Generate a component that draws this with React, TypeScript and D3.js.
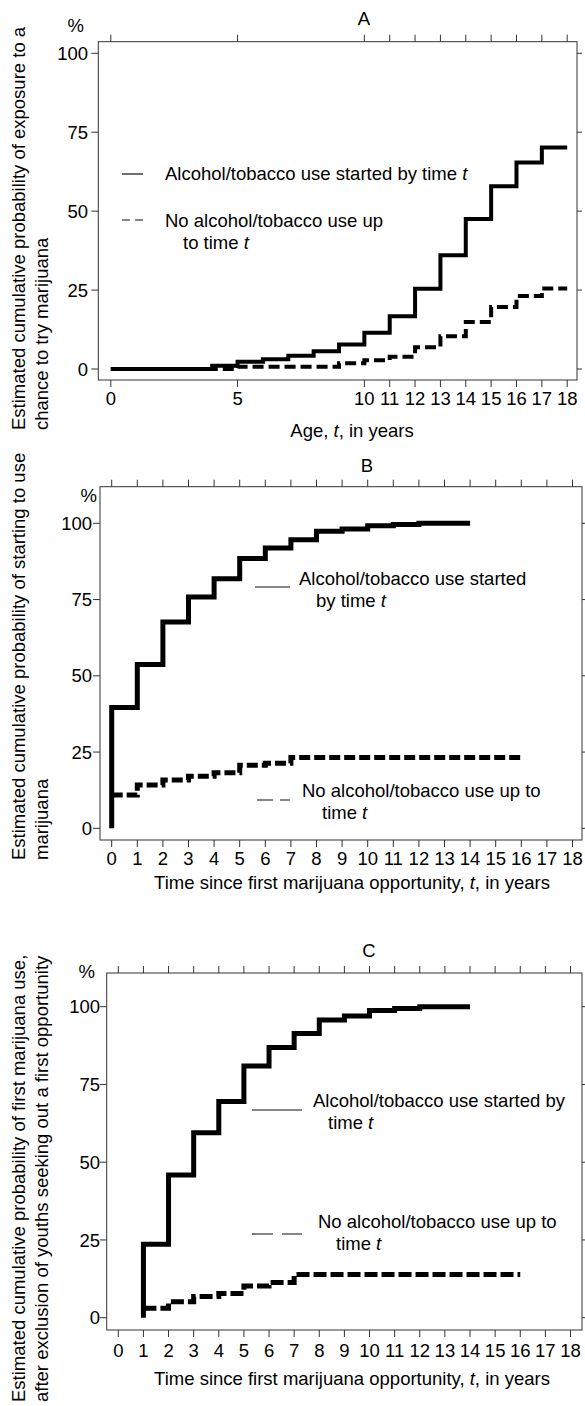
import React from 'react';
import * as d3 from 'd3';

const FONT = '"Liberation Sans", Arial, Helvetica, sans-serif';
const FS = 18.5;

// tick values
const yTickValues = [0, 25, 50, 75, 100];
const ageTicks = [0, 5, 10, 11, 12, 13, 14, 15, 16, 17, 18];
const yearTicks = [0, 1, 2, 3, 4, 5, 6, 7, 8, 9, 10, 11, 12, 13, 14, 15, 16, 17, 18];

// Panel A: exposure to a chance to try marijuana, by age
const ageSolidT = [0, 4, 5, 6, 7, 8, 9, 10, 11, 12, 13, 14, 15, 16, 17, 18];
const ageSolidV = [0, 1.0, 2.3, 3.1, 4.2, 5.6, 7.8, 11.5, 16.7, 25.4, 36.0, 47.5, 57.9, 65.4, 70.2, 70.2];
const ageDashT = [0, 5, 9, 10, 11, 12, 13, 14, 15, 16, 17, 18];
const ageDashV = [0, 0.7, 1.8, 2.8, 3.9, 6.9, 10.4, 14.9, 19.6, 23.1, 25.5, 25.5];

// Panel B: starting to use, time since first opportunity
const oppSolidT = [0, 0, 1, 2, 3, 4, 5, 6, 7, 8, 9, 10, 11, 12, 14];
const oppSolidV = [0, 39.6, 53.7, 67.6, 75.8, 81.8, 88.5, 91.9, 94.6, 97.4, 98.1, 99.2, 99.6, 100, 100];
const oppDashT = [0, 1, 2, 3, 4, 5, 6, 7, 16];
const oppDashV = [10.9, 14.2, 15.8, 17.1, 18.2, 20.7, 21.3, 23.2, 23.2];

// Panel C: after excluding youths seeking out a first opportunity
const exclSolidT = [1, 1, 2, 3, 4, 5, 6, 7, 8, 9, 10, 11, 12, 14];
const exclSolidV = [0, 23.6, 45.9, 59.5, 69.5, 80.9, 86.9, 91.4, 95.7, 97.0, 98.8, 99.4, 100, 100];
const exclDashT = [1, 2, 3, 4, 5, 6, 7, 16];
const exclDashV = [3.0, 5.1, 6.8, 7.8, 10.2, 11.3, 13.9, 13.9];

const solidLabel = 'Alcohol/tobacco use started by time ';

type Part = [string, string];
type LegendLine = { x: number; y: number; parts: Part };
type LegendItem = { x1: number; x2: number; y: number; dash: string | null; lines: LegendLine[] };

const panels = [
  {
    letter: 'A',
    box: { left: 98.3, right: 577, top: 41.7, bottom: 380 },
    xRange: [110.8, 567.2], yRange: [369, 53.3],
    xTicks: ageTicks,
    titleX: 364, titleY: 25,
    pctX: 84, pctY: 32,
    yLabelX: 88,
    xLabelY: 405,
    xTitle: ['Age, ', 't', ', in years'], xTitleX: 352, xTitleY: 437,
    yTitle: ['Estimated cumulative probability of exposure to a', 'chance to try marijuana'],
    yTitleStart: 430,
    solid: [ageSolidT, ageSolidV], dashed: [ageDashT, ageDashV],
    lineWidth: 4, dash: '11 5',
    legend: [
      { x1: 122, x2: 143, y: 174, dash: null, lines: [{ x: 165, y: 180, parts: [solidLabel, 't'] }] },
      {
        x1: 122, x2: 143, y: 220, dash: '8 5', lines: [
          { x: 165, y: 226.5, parts: ['No alcohol/tobacco use up', ''] },
          { x: 183, y: 248.5, parts: ['to time ', 't'] },
        ],
      },
    ] as LegendItem[],
  },
  {
    letter: 'B',
    box: { left: 100, right: 582, top: 486.7, bottom: 840 },
    xRange: [111.7, 572.5], yRange: [828.3, 523.3],
    xTicks: yearTicks,
    titleX: 367, titleY: 472,
    pctX: 97, pctY: 502,
    yLabelX: 92,
    xLabelY: 865,
    xTitle: ['Time since first marijuana opportunity, ', 't', ', in years'], xTitleX: 352, xTitleY: 889,
    yTitle: ['Estimated cumulative probability of starting to use', 'marijuana'],
    yTitleStart: 860,
    solid: [oppSolidT, oppSolidV], dashed: [oppDashT, oppDashV],
    lineWidth: 5, dash: '11 4',
    legend: [
      {
        x1: 255, x2: 290, y: 587, dash: null, lines: [
          { x: 299, y: 585, parts: ['Alcohol/tobacco use started', ''] },
          { x: 316, y: 606.5, parts: ['by time ', 't'] },
        ],
      },
      {
        x1: 257, x2: 290, y: 800, dash: '16 7', lines: [
          { x: 302, y: 797, parts: ['No alcohol/tobacco use up to', ''] },
          { x: 322, y: 818.5, parts: ['time ', 't'] },
        ],
      },
    ] as LegendItem[],
  },
  {
    letter: 'C',
    box: { left: 106.7, right: 582, top: 973, bottom: 1330 },
    xRange: [118.3, 570.5], yRange: [1317.7, 1006.7],
    xTicks: yearTicks,
    titleX: 369, titleY: 957,
    pctX: 95, pctY: 978,
    yLabelX: 100,
    xLabelY: 1357,
    xTitle: ['Time since first marijuana opportunity, ', 't', ', in years'], xTitleX: 352, xTitleY: 1385,
    yTitle: ['Estimated cumulative probability of first marijuana use,', 'after exclusion of youths seeking out a first opportunity'],
    yTitleStart: 1402,
    solid: [exclSolidT, exclSolidV], dashed: [exclDashT, exclDashV],
    lineWidth: 5, dash: '13 4',
    legend: [
      {
        x1: 252, x2: 302, y: 1110, dash: null, lines: [
          { x: 313, y: 1107, parts: ['Alcohol/tobacco use started by', ''] },
          { x: 328, y: 1128.5, parts: ['time ', 't'] },
        ],
      },
      {
        x1: 252, x2: 302, y: 1234, dash: '21 9', lines: [
          { x: 318, y: 1228, parts: ['No alcohol/tobacco use up to', ''] },
          { x: 336, y: 1250, parts: ['time ', 't'] },
        ],
      },
    ] as LegendItem[],
  },
];

function Panel({ p }: { p: typeof panels[number] }) {
  const x = d3.scaleLinear().domain([0, 18]).range(p.xRange);
  const y = d3.scaleLinear().domain([0, 100]).range(p.yRange);
  const line = d3
    .line<[number, number]>()
    .x(d => x(d[0]))
    .y(d => y(d[1]))
    .curve(d3.curveStepAfter);
  const pts = (s: number[][]) => s[0].map((t, i) => [t, s[1][i]] as [number, number]);
  const { left, right, top, bottom } = p.box;
  const tick = 7;

  return (
    <g>
      <text x={p.titleX} y={p.titleY} textAnchor="middle">{p.letter}</text>
      <text x={p.pctX} y={p.pctY} textAnchor="end">%</text>

      {/* frame + ticks on all sides */}
      <rect x={left} y={top} width={right - left} height={bottom - top} fill="none" stroke="#333" strokeWidth={1} />
      {p.xTicks.map(t => (
        <g key={'x' + t}>
          <line x1={x(t)} x2={x(t)} y1={top} y2={top - tick} stroke="#333" />
          <line x1={x(t)} x2={x(t)} y1={bottom} y2={bottom + tick} stroke="#333" />
          <text x={x(t)} y={p.xLabelY} textAnchor="middle">{t}</text>
        </g>
      ))}
      {yTickValues.map(v => (
        <g key={'y' + v}>
          <line x1={left} x2={left - tick} y1={y(v)} y2={y(v)} stroke="#333" />
          <line x1={right} x2={right + 5} y1={y(v)} y2={y(v)} stroke="#333" />
          <text x={p.yLabelX} y={y(v)} dy="0.36em" textAnchor="end">{v}</text>
        </g>
      ))}

      {/* axis titles */}
      <text x={p.xTitleX} y={p.xTitleY} textAnchor="middle">
        {p.xTitle[0]}<tspan fontStyle="italic">{p.xTitle[1]}</tspan>{p.xTitle[2]}
      </text>
      {p.yTitle.map((s, i) => (
        <text key={i} transform={`translate(${25 + i * 23},${p.yTitleStart}) rotate(-90)`}>{s}</text>
      ))}

      {/* step curves */}
      <path d={line(pts(p.dashed)) || ''} fill="none" stroke="#000" strokeWidth={p.lineWidth} strokeDasharray={p.dash} />
      <path d={line(pts(p.solid)) || ''} fill="none" stroke="#000" strokeWidth={p.lineWidth} strokeLinejoin="miter" />

      {/* legend */}
      {p.legend.map((l, i) => (
        <g key={'l' + i}>
          <line x1={l.x1} x2={l.x2} y1={l.y} y2={l.y} stroke="#111" strokeWidth={1.2} strokeDasharray={l.dash || undefined} />
          {l.lines.map((ln, j) => (
            <text key={j} x={ln.x} y={ln.y}>
              {ln.parts[0]}
              {ln.parts[1] && <tspan fontStyle="italic">{ln.parts[1]}</tspan>}
            </text>
          ))}
        </g>
      ))}
    </g>
  );
}

export default function App() {
  return (
    <svg
      width={585}
      height={1406}
      style={{ position: 'absolute', left: 0, top: 0, display: 'block' }}
      fontFamily={FONT}
      fontSize={FS}
      fill="#000"
    >
      <rect width={585} height={1406} fill="#fff" />
      {panels.map(p => <Panel key={p.letter} p={p} />)}
    </svg>
  );
}
